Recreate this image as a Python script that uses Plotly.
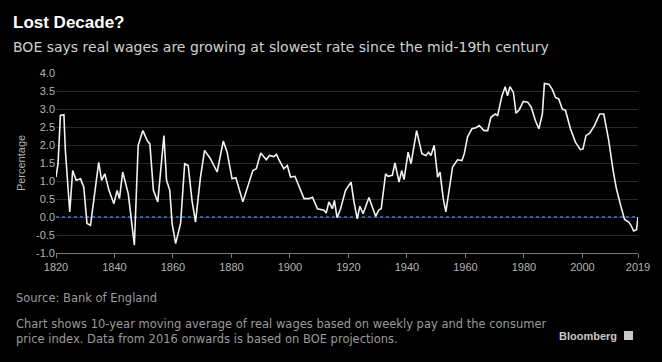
import plotly.graph_objects as go

# Readings of the 10-year moving average of real wage growth (%)
years = [1820, 1820.7, 1821.5, 1822.7, 1823.2, 1824.7, 1825.7, 1826.9, 1828.4, 1829.5,
         1830.6, 1831.8, 1834.6, 1835.6, 1836.7, 1838.1, 1839.8, 1840.9, 1841.7, 1842.8,
         1844.7, 1846.8, 1848.1, 1849.7, 1851.2, 1852.1, 1853.3, 1854.8, 1856.9, 1857.8,
         1858.9, 1859.7, 1860.9, 1862.6, 1864.0, 1865.2, 1866.5, 1867.7, 1869.4, 1870.8,
         1872.8, 1875.1, 1877.2, 1878.5, 1880.2, 1881.5, 1883.9, 1885.8, 1887.3, 1888.5,
         1890.0, 1891.9, 1893.0, 1894.5, 1895.4, 1896.2, 1897.9, 1899.1, 1900.2, 1901.7,
         1903.1, 1904.8, 1906.5, 1907.7, 1909.4, 1911.6, 1912.4, 1913.3, 1914.5, 1915.2,
         1916.1, 1917.3, 1919.0, 1920.9, 1921.8, 1923.0, 1923.9, 1925.0, 1927.0, 1929.3,
         1930.4, 1931.2, 1932.7, 1933.5, 1935.0, 1935.9, 1937.3, 1938.2, 1939.0, 1940.4,
         1941.4, 1943.3, 1945.1, 1946.5, 1947.4, 1948.2, 1949.3, 1950.5, 1951.3, 1952.4,
         1953.3, 1954.7, 1955.6, 1957.3, 1958.8, 1959.6, 1960.7, 1962.2, 1963.6, 1964.7,
         1966.4, 1967.6, 1968.7, 1970.2, 1971.0, 1972.5, 1973.6, 1974.4, 1975.2, 1976.4,
         1977.3, 1978.4, 1979.8, 1981.3, 1982.5, 1983.9, 1985.1, 1986.3, 1987.0, 1988.5,
         1989.6, 1990.8, 1991.9, 1993.1, 1994.2, 1995.9, 1997.6, 1999.3, 2000.2, 2001.2,
         2002.5, 2004.1, 2005.9, 2007.3, 2009.0, 2010.5, 2011.6, 2013.2, 2014.4, 2015.8,
         2016.6, 2017.5, 2018.5, 2019]
values = [1.11, 1.48, 2.82, 2.84, 1.85, 0.14, 1.29, 1.02, 1.06, 0.83,
          -0.18, -0.23, 1.52, 1.02, 1.20, 0.74, 0.37, 0.74, 0.51, 1.25,
          0.65, -0.78, 1.99, 2.40, 2.12, 2.03, 0.74, 0.42, 2.26, 1.02,
          0.74, -0.18, -0.74, -0.18, 1.48, 1.43, 0.46, -0.14, 1.11, 1.85,
          1.62, 1.25, 2.11, 1.80, 1.06, 1.09, 0.42, 0.92, 1.29, 1.34,
          1.78, 1.59, 1.71, 1.68, 1.74, 1.59, 1.34, 1.43, 1.11, 1.13,
          0.83, 0.51, 0.51, 0.55, 0.23, 0.19, 0.11, 0.42, 0.23, 0.46,
          -0.02, 0.23, 0.74, 0.97, 0.46, -0.05, 0.30, 0.09, 0.54, 0.02,
          0.20, 0.23, 1.20, 1.13, 1.16, 1.50, 0.97, 1.29, 1.04, 1.80,
          1.48, 2.40, 1.76, 1.71, 1.80, 1.71, 1.99, 1.11, 1.25, 0.51,
          0.14, 0.92, 1.39, 1.59, 1.57, 1.76, 2.22, 2.45, 2.48, 2.54,
          2.40, 2.40, 2.77, 2.86, 2.82, 3.37, 3.62, 3.37, 3.62, 3.46,
          2.88, 2.98, 3.21, 3.19, 3.05, 2.68, 2.45, 2.86, 3.71, 3.69,
          3.56, 3.32, 3.28, 3.00, 2.96, 2.45, 2.08, 1.87, 1.89, 2.26,
          2.33, 2.54, 2.86, 2.86, 2.12, 1.29, 0.79, 0.28, -0.07, -0.14,
          -0.23, -0.39, -0.35, 0.00]

x_ticks = [1820, 1840, 1860, 1880, 1900, 1920, 1940, 1960, 1980, 2000, 2019]
y_ticks = [4.0, 3.5, 3.0, 2.5, 2.0, 1.5, 1.0, 0.5, 0.0, -0.5, -1.0]
zero_x = [1820, 2019]
zero_y = [0, 0]

FONT = "Liberation Sans"
TEXT_FONT = "DejaVu Sans"
GRAY = "#b4b4b4"

ML, MR, MT, MB = 56, 24, 73, 109
W, H = 662, 362
PW, PH = W - ML - MR, H - MT - MB


def px(x):
    return (x - ML) / PW


def py(y):
    return (H - MB - y) / PH


fig = go.Figure()
fig.add_trace(go.Scatter(x=zero_x, y=zero_y, mode="lines",
                         line=dict(color="#2f7fd0", width=1.6, dash="dot"),
                         hoverinfo="skip", showlegend=False))
fig.add_trace(go.Scatter(x=years, y=values, mode="lines",
                         line=dict(color="#f2f2f2", width=1.6),
                         hoverinfo="skip", showlegend=False))

fig.update_layout(
    width=W, height=H,
    paper_bgcolor="black", plot_bgcolor="black",
    margin=dict(l=ML, r=MR, t=MT, b=MB),
    font=dict(family=FONT, color=GRAY, size=11),
    xaxis=dict(range=[1820, 2019], tickvals=x_ticks, ticktext=[str(t) for t in x_ticks],
               showgrid=False, zeroline=False, showline=True, linecolor="#777777",
               linewidth=1, ticks="outside", ticklen=4, tickcolor="#777777",
               tickfont=dict(size=11, color=GRAY), automargin=False),
    yaxis=dict(range=[-1, 4], tickvals=y_ticks, ticktext=[f"{v:.1f}" for v in y_ticks],
               showgrid=True, gridcolor="#2a2a2a", gridwidth=1, zeroline=False,
               showline=False, ticks="", tickfont=dict(size=11, color=GRAY),
               automargin=False,
               title=dict(text="Percentage", font=dict(size=11, color=GRAY), standoff=8)),
    annotations=[
        dict(text="<b>Lost Decade?</b>", x=px(11), y=py(34), xref="paper", yref="paper",
             xanchor="left", yanchor="bottom", showarrow=False,
             font=dict(size=17, color="white", family=FONT)),
        dict(text="BOE says real wages are growing at slowest rate since the mid-19th century",
             x=px(11), y=py(47), xref="paper", yref="paper",
             xanchor="left", yanchor="middle", showarrow=False,
             font=dict(size=14, color="#d0d0d0", family=TEXT_FONT)),
        dict(text="Source: Bank of England", x=px(14), y=py(298),
             xref="paper", yref="paper", xanchor="left", yanchor="middle", showarrow=False,
             font=dict(size=11.5, color="#9a9a9a", family=TEXT_FONT)),
        dict(text="Chart shows 10-year moving average of real wages based on weekly pay and the consumer<br>"
                  "price index. Data from 2016 onwards is based on BOE projections.",
             x=px(14), y=py(331), xref="paper", yref="paper", xanchor="left",
             yanchor="middle", align="left", showarrow=False,
             font=dict(size=11.5, color="#9a9a9a", family=TEXT_FONT)),
        dict(text="<b>Bloomberg</b>", x=px(619), y=py(336), xref="paper", yref="paper",
             xanchor="right", yanchor="middle", showarrow=False,
             font=dict(size=11, color="#c8c8c8", family=FONT)),
    ],
    shapes=[
        dict(type="rect", xref="paper", yref="paper",
             x0=px(624), x1=px(633), y0=py(340), y1=py(331),
             fillcolor="#c8c8c8", line=dict(width=0)),
    ],
)

fig.write_html(
    "out.html",
    config={"displayModeBar": False},
    post_script="document.body.style.margin='0';document.body.style.background='black';"
                "document.body.style.overflow='hidden';",
)
